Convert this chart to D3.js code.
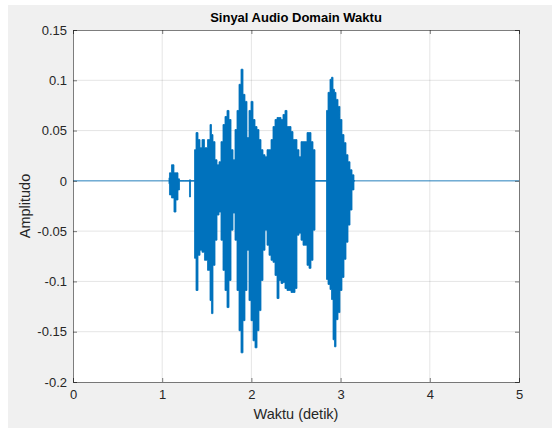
<!DOCTYPE html>
<html>
<head>
<meta charset="utf-8">
<script src="https://cdn.jsdelivr.net/npm/d3@7"></script>
<style>
  body { margin: 0; background: #fff; }
  text { font-family: "Liberation Sans", Arial, sans-serif; }
</style>
</head>
<body>
<div id="chart"></div>
<script>
// # Envelope of the waveform (seconds, amplitude).
const time = [1.076, 1.087, 1.121, 1.143, 1.166, 1.188, 1.200, 1.300, 1.312, 1.323,
  1.357, 1.368, 1.390, 1.413, 1.435, 1.457, 1.491, 1.525, 1.547, 1.558,
  1.581, 1.603, 1.626, 1.648, 1.670, 1.693, 1.715, 1.738, 1.760, 1.783,
  1.805, 1.827, 1.850, 1.872, 1.895, 1.917, 1.939, 1.962, 1.984, 2.007,
  2.029, 2.052, 2.074, 2.096, 2.119, 2.141, 2.164, 2.186, 2.209, 2.231,
  2.253, 2.276, 2.298, 2.321, 2.343, 2.365, 2.388, 2.410, 2.433, 2.455,
  2.478, 2.500, 2.522, 2.545, 2.567, 2.590, 2.612, 2.635, 2.657, 2.679,
  2.702, 2.724, 2.836, 2.848, 2.870, 2.892, 2.904, 2.926, 2.937, 2.960,
  2.982, 3.004, 3.027, 3.049, 3.072, 3.094, 3.117, 3.139, 3.161]
const upper = [0.003, 0.008, 0.016, 0.008, 0.008, 0.002, 0, 0, 0.001, 0,
  0, 0.031, 0.048, 0.041, 0.033, 0.041, 0.033, 0.041, 0.056, 0.046,
  0.039, 0.021, 0.016, 0.019, 0.039, 0.056, 0.064, 0.070, 0.061, 0.031,
  0.021, 0.051, 0.070, 0.096, 0.111, 0.086, 0.079, 0.043, 0.070, 0.079,
  0.061, 0.054, 0.051, 0.041, 0.031, 0.026, 0.024, 0.031, 0.031, 0.041,
  0.054, 0.061, 0.063, 0.063, 0.061, 0.066, 0.070, 0.054, 0.054, 0.049,
  0.041, 0.041, 0.031, 0.024, 0.039, 0.039, 0.039, 0.048, 0.048, 0.039,
  0.031, 0, 0, 0.070, 0.088, 0.101, 0.103, 0.091, 0.088, 0.081,
  0.074, 0.061, 0.046, 0.038, 0.026, 0.019, 0.011, 0.006, 0]
const lower = [-0.003, -0.014, -0.017, -0.031, -0.019, -0.009, 0, 0, -0.016, 0,
  0, -0.077, -0.109, -0.074, -0.069, -0.071, -0.079, -0.089, -0.119, -0.132,
  -0.084, -0.059, -0.034, -0.031, -0.059, -0.089, -0.109, -0.126, -0.099, -0.049,
  -0.032, -0.059, -0.109, -0.149, -0.171, -0.139, -0.109, -0.069, -0.119, -0.139,
  -0.159, -0.166, -0.149, -0.129, -0.099, -0.069, -0.049, -0.064, -0.074, -0.079,
  -0.081, -0.094, -0.117, -0.099, -0.102, -0.101, -0.107, -0.109, -0.109, -0.111,
  -0.111, -0.107, -0.054, -0.052, -0.059, -0.064, -0.064, -0.084, -0.087, -0.079,
  -0.049, 0, 0, -0.098, -0.103, -0.108, -0.118, -0.158, -0.165, -0.138,
  -0.131, -0.109, -0.096, -0.078, -0.061, -0.044, -0.029, -0.009, 0]

const xTicks = [0, 1, 2, 3, 4, 5]
const yTicks = [-0.2, -0.15, -0.1, -0.05, 0, 0.05, 0.1, 0.15]
const blue = '#0072BD'

let width = 552, height = 428
let margin = {left: 73, right: 33, top: 30, bottom: 46}

let svg = d3.select('#chart')
    .append('svg')
    .attr('width', width)
    .attr('height', height)

// # Figure background.
svg.append('rect')
    .attr('x', 8).attr('y', 5)
    .attr('width', width - 8).attr('height', height - 5)
    .attr('fill', '#f0f0f0')

let x = d3.scaleLinear().domain([0, 5]).range([margin.left, width - margin.right])
let y = d3.scaleLinear().domain([-0.2, 0.15]).range([height - margin.bottom, margin.top])

// # Axes area.
svg.append('rect')
    .attr('x', x(0)).attr('y', y(0.15))
    .attr('width', x(5) - x(0)).attr('height', y(-0.2) - y(0.15))
    .attr('fill', '#fff')

// # Grid.
let grid = svg.append('g').attr('stroke', '#262626').attr('stroke-opacity', 0.12)
grid.selectAll('line.gx')
    .data(xTicks.slice(1, -1))
    .enter().append('line')
    .attr('x1', d => x(d)).attr('x2', d => x(d))
    .attr('y1', y(0.15)).attr('y2', y(-0.2))
grid.selectAll('line.gy')
    .data(yTicks.slice(1, -1))
    .enter().append('line')
    .attr('x1', x(0)).attr('x2', x(5))
    .attr('y1', d => y(d)).attr('y2', d => y(d))

// # Waveform.
let pts = time.map((t, i) => ({t: t, hi: upper[i], lo: lower[i]}))
svg.append('line')
    .attr('x1', x(0)).attr('x2', x(5))
    .attr('y1', y(0)).attr('y2', y(0))
    .attr('stroke', blue).attr('stroke-width', 0.8)
svg.append('path')
    .datum(pts)
    .attr('fill', blue)
    .attr('stroke', blue)
    .attr('stroke-width', 0.8)
    .attr('d', d3.area()
        .curve(d3.curveStep)
        .x(d => x(d.t))
        .y0(d => y(d.lo))
        .y1(d => y(d.hi)))

// # Axes with inward ticks, box on.
let tickLen = 4
let ax = svg.append('g')
    .attr('transform', `translate(0, ${y(-0.2)})`)
    .call(d3.axisBottom(x).tickValues(xTicks).tickSize(-tickLen).tickPadding(8).tickFormat(d3.format('d')))
let axTop = svg.append('g')
    .attr('transform', `translate(0, ${y(0.15)})`)
    .call(d3.axisTop(x).tickValues(xTicks).tickSize(-tickLen).tickFormat(''))
let ay = svg.append('g')
    .attr('transform', `translate(${x(0)}, 0)`)
    .call(d3.axisLeft(y).tickValues(yTicks).tickSize(-tickLen).tickPadding(6)
        .tickFormat(d => d === 0 ? '0' : String(+d.toFixed(2))))
let ayR = svg.append('g')
    .attr('transform', `translate(${x(5)}, 0)`)
    .call(d3.axisRight(y).tickValues(yTicks).tickSize(-tickLen).tickFormat(''))

;[ax, axTop, ay, ayR].forEach(g => {
    g.select('.domain').attr('stroke', '#262626').attr('stroke-opacity', 0.6)
    g.selectAll('.tick line').attr('stroke', '#262626').attr('stroke-opacity', 0.6)
    g.selectAll('.tick text').attr('fill', '#262626').attr('font-size', 13)
        .attr('font-family', '"Liberation Sans", Arial, sans-serif')
})

// # Labels.
svg.append('text')
    .attr('x', (x(0) + x(5)) / 2).attr('y', 22)
    .attr('text-anchor', 'middle')
    .attr('font-size', 13).attr('font-weight', 'bold')
    .attr('fill', '#000')
    .text('Sinyal Audio Domain Waktu')
svg.append('text')
    .attr('x', (x(0) + x(5)) / 2).attr('y', 419)
    .attr('text-anchor', 'middle')
    .attr('font-size', 14.5)
    .attr('fill', '#262626')
    .text('Waktu (detik)')
svg.append('text')
    .attr('transform', `translate(30, ${(y(0.15) + y(-0.2)) / 2}) rotate(-90)`)
    .attr('text-anchor', 'middle')
    .attr('font-size', 14.5)
    .attr('fill', '#262626')
    .text('Amplitudo')
</script>
</body>
</html>
